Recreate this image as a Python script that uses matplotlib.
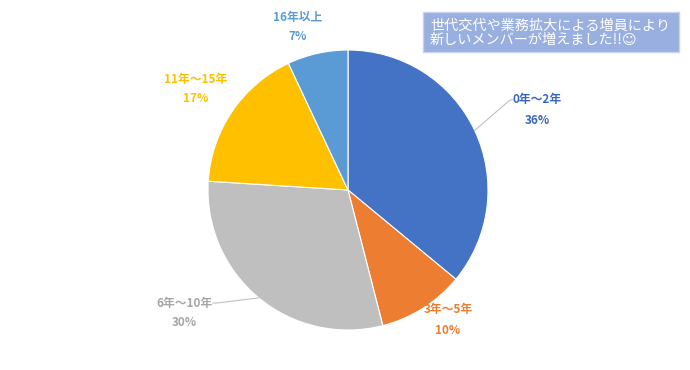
import numpy as np
import matplotlib
matplotlib.use('Agg')
import matplotlib.pyplot as plt
from matplotlib.patches import Rectangle

plt.rcParams['font.family'] = ['Noto Sans CJK JP', 'DejaVu Sans']

categories = ['0年〜2年', '3年〜5年', '6年〜10年', '11年〜15年', '16年以上']
shares = [36, 10, 30, 17, 7]
colors = ['#4472C4', '#ED7D31', '#BFBFBF', '#FFC000', '#5B9BD5']
label_colors = ['#3A66BC', '#ED7D31', '#A6A6A6', '#FFC000', '#5B9BD5']
note = '世代交代や業務拡大による増員により\n新しいメンバーが増えました!!☺'

W, H = 690, 370
fig = plt.figure(figsize=(W / 100, H / 100), dpi=100)
ax = fig.add_axes([0, 0, 1, 1])

cx, cy, r = 348, H - 190, 140
wedges, _ = ax.pie(shares, colors=colors, startangle=90, counterclock=False,
                   center=(cx, cy), radius=r, frame=True,
                   wedgeprops=dict(edgecolor='white', linewidth=0.8))
ax.set_xlim(0, W)
ax.set_ylim(0, H)
ax.axis('off')

# label anchor positions (pixel coords, top-left origin) and leader flags
label_pos = [(537, 100), (448, 310), (184, 303), (196, 79), (298, 17)]
leader = [True, False, True, False, False]

for w, name, val, col, (px, py), ld in zip(wedges, categories, shares, label_colors, label_pos, leader):
    ax.text(px, H - py, name, color=col, fontsize=8.5, fontweight='bold',
            ha='center', va='center', zorder=5)
    ax.text(px, H - py - 20, f'{val}%', color=col, fontsize=8.5, fontweight='bold',
            ha='center', va='center', zorder=5)
    if ld:
        mid = np.deg2rad((w.theta1 + w.theta2) / 2)
        ex, ey = cx + r * np.cos(mid), cy + r * np.sin(mid)
        if px > cx:
            kx = px - 27
            ax.plot([ex, kx, kx + 3], [ey, H - py, H - py], color='#BFBFBF', lw=0.8)
        else:
            kx = px + 33
            ax.plot([ex, kx, kx - 4], [ey, H - py, H - py], color='#BFBFBF', lw=0.8)

ax.add_patch(Rectangle((423, H - 52), 256, 40, facecolor='#98AFDF',
                       edgecolor='#C5D3EE', lw=1, zorder=4))
ax.text(430, H - 33, note, color='white', fontsize=10.2, ha='left', va='center',
        linespacing=1.05, zorder=5)

fig.savefig('out.png', dpi=100)
